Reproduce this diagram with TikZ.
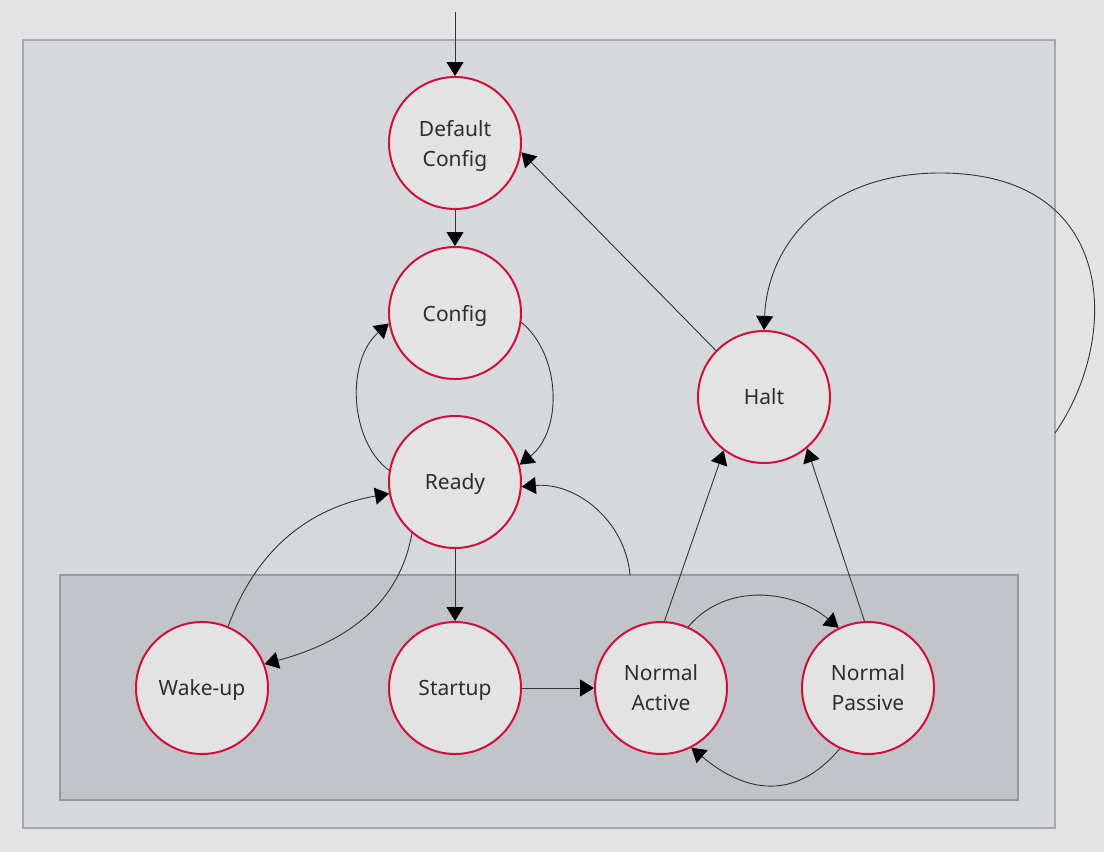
\documentclass[tikz,border=0pt]{standalone}
\usepackage{fontspec}
\setmainfont{Noto Sans}
\usepackage{xcolor}
\usepackage{tikz}
\usetikzlibrary{positioning,calc,arrows.meta}

\definecolor{pagebg}{HTML}{E3E3E3}
\definecolor{outerfill}{HTML}{D5D9DC}
\definecolor{outerline}{HTML}{A6A8AA}
\definecolor{innerfill}{HTML}{C1C5C9}
\definecolor{innerline}{HTML}{979A9D}
\definecolor{staterim}{HTML}{D0103A}
\definecolor{statetext}{HTML}{2E2E2E}

\begin{document}
\begin{tikzpicture}[x=0.5pt, y=-0.5pt,
    state/.style={circle, draw=staterim, line width=1pt, fill=pagebg, minimum size=66pt,
      inner sep=0pt, align=center, text=statetext, text depth=0pt,
      font=\fontsize{10.5}{15}\selectfont},
    trans/.style={draw=black!80, line width=0.45pt,
      -{Triangle[length=7pt,width=8.5pt,color=black]}}]

    % page and the two boxes
    \useasboundingbox (0,0) rectangle (1104,852);
    \fill[pagebg] (0,0) rectangle (1104,852);
    \draw[fill=outerfill, draw=outerline, line width=0.8pt] (23,40) rectangle (1055,828);
    \draw[fill=innerfill, draw=innerline, line width=0.8pt] (60,575) rectangle (1018,800);

    \coordinate (entry) at (455,12);
    \coordinate (outerright) at (1055,433);
    \coordinate (innertop) at (630,575);

    % states
    \node [state] (default) at (455,143) {Default\\Config};
    \node [state] (config)  at (455,313) {Config};
    \node [state] (ready)   at (455,482) {Ready};
    \node [state] (halt)    at (764,397) {Halt};
    \node [state] (wakeup)  at (202,688) {Wake-up};
    \node [state] (startup) at (455,688) {Startup};
    \node [state] (active)  at (661,688) {Normal\\Active};
    \node [state] (passive) at (868,688) {Normal\\Passive};

    % transitions
    \draw [trans] (entry) -- (default);
    \draw [trans] (default) -- (config);
    \draw [trans] (config.-8) .. controls +(40,33) and +(43,-34) .. (ready.15);
    \draw [trans] (ready.170) .. controls +(-40,-30) and +(-43,37) .. (config.-171);
    \draw [trans] (ready) -- (startup);
    \draw [trans] (ready.-130) to[out=-100, in=15] (wakeup.21);
    \draw [trans] (wakeup.67) to[out=70, in=190] (ready.-170);
    \draw [trans] (innertop) to[out=95, in=5] (ready.-4);
    \draw [trans] (startup) -- (active);
    \draw [trans] (active.66) to[out=50, in=140] (passive.116);
    \draw [trans] (passive.-115) to[out=-130, in=-40, looseness=1.2] (active.-63);
    \draw [trans] (active.87) -- (halt.-127);
    \draw [trans] (passive.93) -- (halt.-50);
    \draw [trans] (halt.136) -- (default.-8);
    \draw [trans] (outerright) .. controls (1120,340) and (1120,173) .. (940,173)
      .. controls (830,173) and (768,240) .. (halt.north);
\end{tikzpicture}
\end{document}
